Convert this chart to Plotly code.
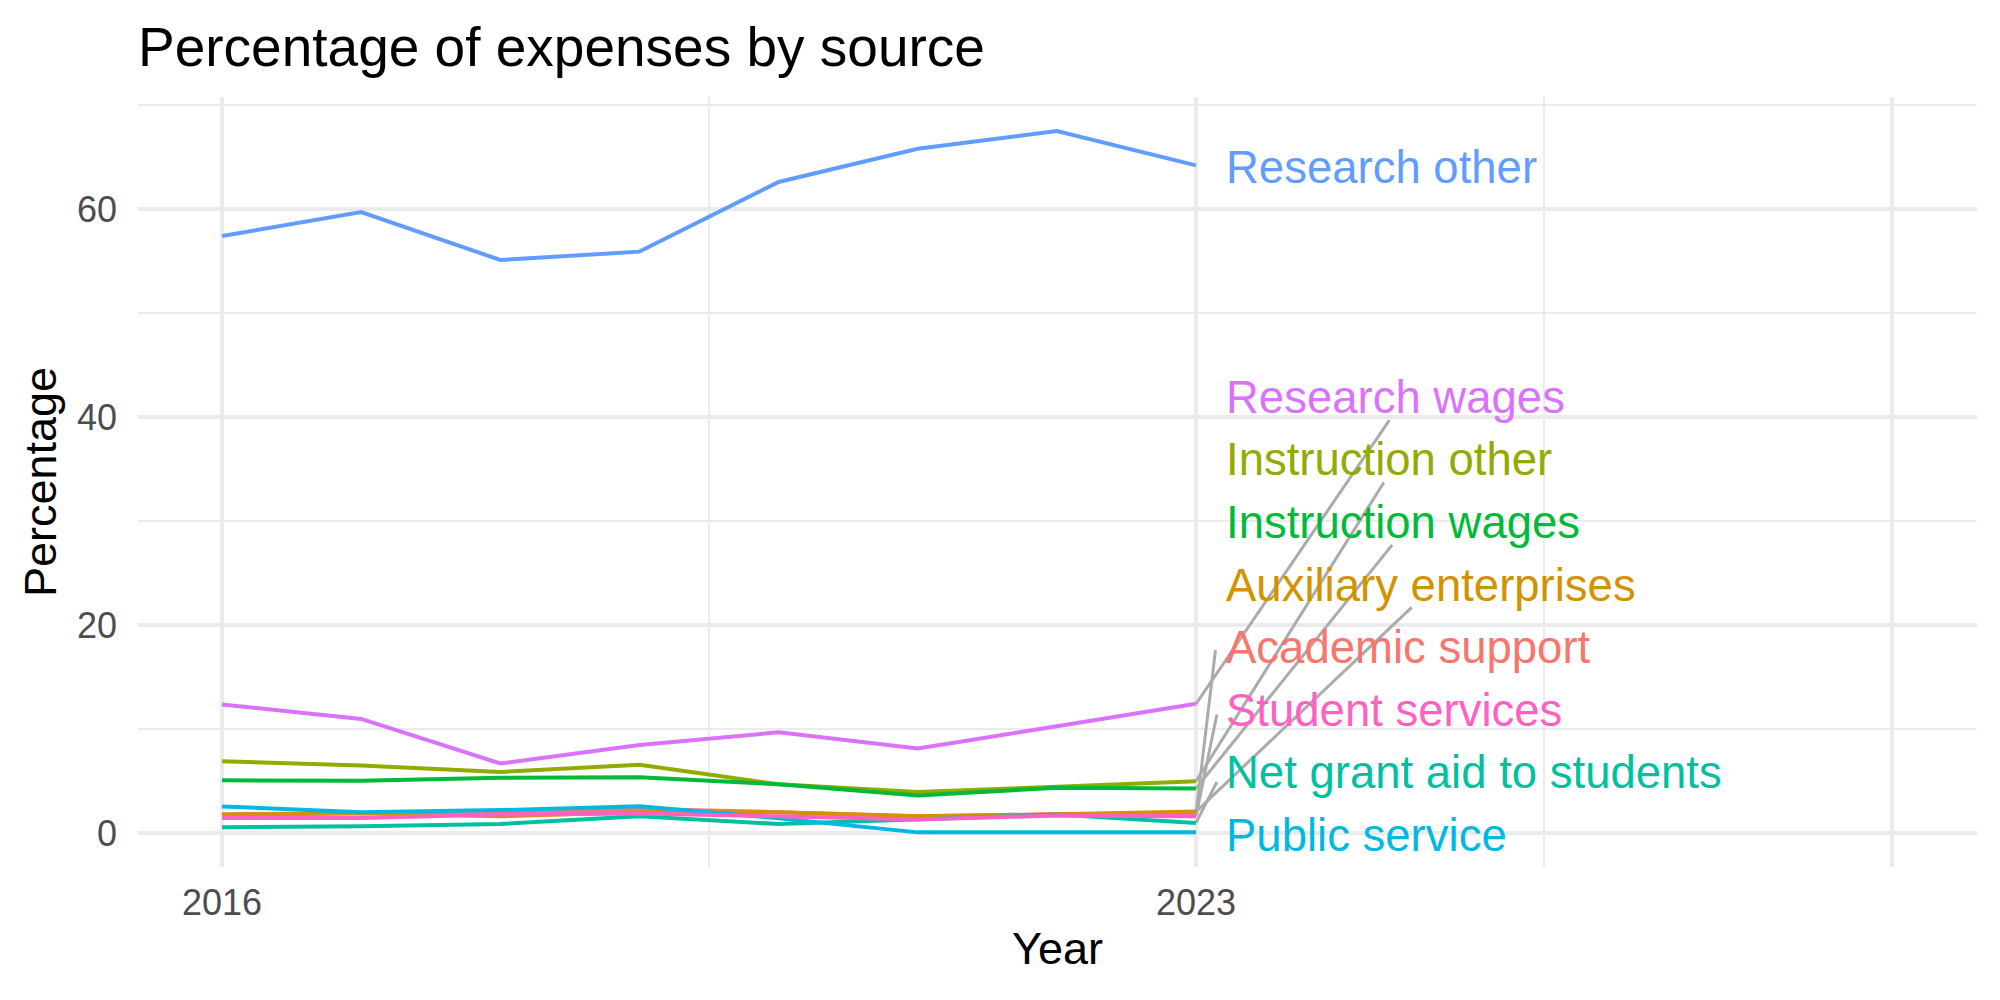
import plotly.graph_objects as go

years = [2016, 2017, 2018, 2019, 2020, 2021, 2022, 2023]

categories = [
    "Academic support", "Auxiliary enterprises", "Instruction other",
    "Instruction wages", "Net grant aid to students", "Public service",
    "Research other", "Research wages", "Student services",
]
academic_support = [1.8, 1.9, 1.9, 2.3, 2.0, 1.6, 1.8, 1.9]
auxiliary_enterprises = [1.75, 1.9, 1.6, 2.0, 2.0, 1.6, 1.8, 2.06]
instruction_other = [6.9, 6.5, 5.87, 6.55, 4.68, 3.94, 4.45, 4.97]
instruction_wages = [5.06, 5.03, 5.3, 5.35, 4.68, 3.6, 4.35, 4.29]
net_grant_aid = [0.55, 0.65, 0.87, 1.6, 0.87, 1.3, 1.77, 0.97]
public_service = [2.55, 2.0, 2.2, 2.58, 1.42, 0.06, 0.06, 0.06]
research_other = [57.4, 59.7, 55.1, 55.9, 62.6, 65.8, 67.5, 64.2]
research_wages = [12.35, 10.97, 6.68, 8.45, 9.68, 8.13, 10.27, 12.42]
student_services = [1.45, 1.45, 1.77, 1.87, 1.6, 1.3, 1.68, 1.6]

series = [academic_support, auxiliary_enterprises, instruction_other,
          instruction_wages, net_grant_aid, public_service,
          research_other, research_wages, student_services]

colors = ["#F8766D", "#D39200", "#93AA00", "#00BA38", "#00C19F",
          "#00B9E3", "#619CFF", "#DB72FB", "#FF61C3"]

# repelled label positions (label centre y) and leader segment ends
label_y = [17.8, 23.8, 35.9, 29.9, 5.8, -0.2, 64.0, 41.9, 11.8]
seg_end_x = [2023.14, 2024.55, 2024.35, 2024.41, 2023.15, None, None, 2024.39, 2023.15]
seg_end_y = [17.6, 21.7, 33.7, 27.7, 4.9, None, None, 39.7, 11.4]
label_x = 2023.2

x_major = [2016, 2023, 2028]
x_major_text = ["2016", "2023", ""]
x_minor = [2019.5, 2025.5]

FONT = "Liberation Sans, Arial, Helvetica, sans-serif"

fig = go.Figure()

# leader segments
for i, cat in enumerate(categories):
    if seg_end_x[i] is None:
        continue
    fig.add_trace(go.Scatter(
        x=[years[-1], seg_end_x[i]], y=[series[i][-1], seg_end_y[i]],
        mode="lines", line=dict(color="#ABABAB", width=3),
        hoverinfo="skip", showlegend=False))

for i, cat in enumerate(categories):
    fig.add_trace(go.Scatter(
        x=years, y=series[i], mode="lines", name=cat,
        line=dict(color=colors[i], width=4), showlegend=False))

for i, cat in enumerate(categories):
    fig.add_annotation(
        x=label_x, y=label_y[i], text=cat, showarrow=False,
        xanchor="left", yanchor="middle",
        font=dict(family=FONT, size=45.5, color=colors[i]))

fig.update_layout(
    width=2000, height=1000,
    margin=dict(l=138, r=23, t=97, b=133),
    paper_bgcolor="white", plot_bgcolor="white",
    showlegend=False,
    title=dict(text="Percentage of expenses by source", x=0, xref="paper",
               xanchor="left", y=0.953, yref="container", yanchor="middle",
               font=dict(family=FONT, size=55, color="black")),
    xaxis=dict(
        range=[2015.396, 2028.613], tickvals=x_major, ticktext=x_major_text,
        showgrid=True, gridcolor="#EBEBEB", gridwidth=4, zeroline=False,
        showline=False, ticks="", ticklabelstandoff=11,
        tickfont=dict(family=FONT, size=36, color="#4D4D4D"),
        minor=dict(tickvals=x_minor, showgrid=True, gridcolor="#EBEBEB", gridwidth=2),
        title=dict(text="Year", standoff=10,
                   font=dict(family=FONT, size=45, color="black")),
    ),
    yaxis=dict(
        range=[-3.27, 70.77], tickvals=[0, 20, 40, 60],
        showgrid=True, gridcolor="#EBEBEB", gridwidth=4, zeroline=False,
        showline=False, ticks="", ticklabelstandoff=20,
        tickfont=dict(family=FONT, size=36, color="#4D4D4D"),
        minor=dict(tickvals=[10, 30, 50, 70], showgrid=True, gridcolor="#EBEBEB", gridwidth=2),
        title=dict(text="Percentage", standoff=6,
                   font=dict(family=FONT, size=45, color="black")),
    ),
)

fig.write_html("out.html")
